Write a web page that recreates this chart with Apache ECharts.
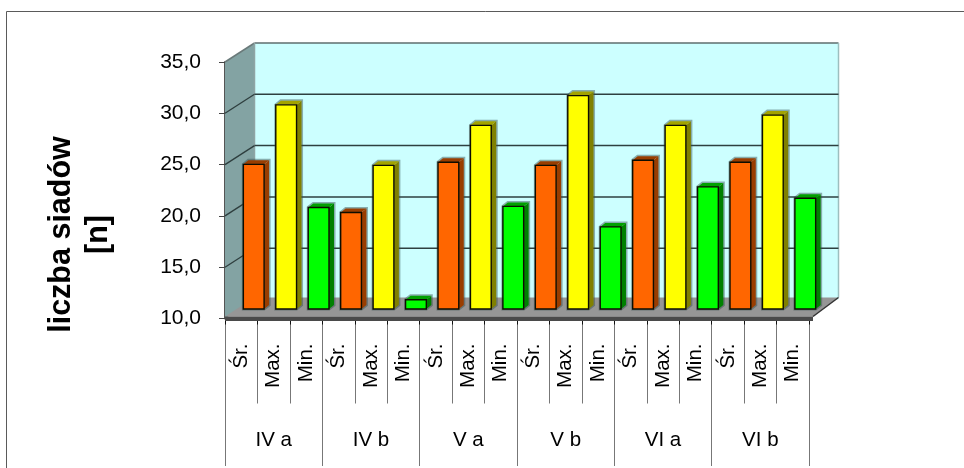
<!DOCTYPE html>
<html>
<head>
<meta charset="utf-8">
<style>html,body{margin:0;padding:0;background:#fff}#chart{width:964px;height:468px}</style>
<script src="https://cdn.jsdelivr.net/npm/echarts@6/dist/echarts.min.js"></script>
</head>
<body>
<div id="chart"></div>
<script>
// Footprint counts per group: mean, maximum, minimum
const groups = ['IV a', 'IV b', 'V a', 'V b', 'VI a', 'VI b'];
const stats = ['Śr.', 'Max.', 'Min.'];
const srValues = [24.1, 19.4, 24.3, 24.0, 24.5, 24.3];
const maxValues = [29.9, 24.0, 27.9, 30.8, 27.9, 28.9];
const minValues = [19.9, 10.9, 20.0, 18.0, 21.9, 20.8];
const yTicks = [15, 20, 25, 30];
const yMin = 10, yMax = 35, yStep = 5;
const yTitle = 'liczba siadów\n[n]';

// Pseudo-3D box depth, in pixels
const WALL_DX = 29.5, WALL_DY = 19;
const BAR_DX = 12.5, BAR_DY = 9.5;
const BAR_SIDE_DX = 5, BAR_SIDE_DY = 4;
const BAR_RATIO = 0.64;

const FONT = '"Liberation Sans", Arial, sans-serif';
const statLabels = [];
groups.forEach(() => stats.forEach(s => statLabels.push(s)));

function poly(points, fill, extra) {
  return Object.assign({
    type: 'polygon',
    shape: { points },
    style: { fill, stroke: null }
  }, extra || {});
}
function line(x1, y1, x2, y2, stroke, lineWidth) {
  return { type: 'line', shape: { x1, y1, x2, y2 }, style: { stroke, lineWidth } };
}

// Back wall, side wall and floor of the box
function renderBox(params, api) {
  const c = params.coordSys;
  const L = c.x, T = c.y, R = c.x + c.width, B = c.y + c.height;
  const bl = L + WALL_DX, bt = T - WALL_DY, bb = B - WALL_DY, br = R + WALL_DX;
  return {
    type: 'group',
    children: [
      poly([[bl, bt], [br, bt], [br, bb], [bl, bb]], '#CCFFFF'),
      poly([[L, T], [bl, bt], [bl, bb], [L, B]], '#83A3A3'),
      poly([[L, B - 2], [bl, bb - 2], [br, bb - 2], [R + 4, B - 2]], '#969696'),
      { type: 'rect', shape: { x: L, y: B - 2, width: R + 4 - L, height: 4.5 }, style: { fill: '#4A4A4A' } },
      line(bl, bt, br, bt, '#5E6E6E', 1.5),
      line(L, T, bl, bt, '#6A7A7A', 1.5),
      line(bl, bt, bl, bb, '#8FA5A5', 1.5),
      line(br, bt, br, bb - 2, '#9CBFBF', 1.5),
      line(R + 4, B - 2, br, bb - 2, '#333333', 1.5)
    ]
  };
}

// Gridline along the back wall with its diagonal on the side wall
function renderGrid(params, api) {
  const p = api.coord([0, api.value(0)]);
  const c = params.coordSys;
  const L = c.x, R = c.x + c.width;
  const y = p[1];
  return {
    type: 'group',
    children: [
      line(L, y, L + WALL_DX, y - WALL_DY, '#2E3E3E', 1.3),
      line(L + WALL_DX, y - WALL_DY, R + WALL_DX, y - WALL_DY, '#2E4040', 1.5)
    ]
  };
}

function barRenderer(face, side, cap) {
  return function (params, api) {
    const i = api.value(0);
    const top = api.coord([i, api.value(1)]);
    const base = api.coord([i, yMin]);
    const w = api.size([1, 0])[0] * BAR_RATIO;
    const x0 = top[0] + BAR_DX - w / 2, x1 = x0 + w;
    const y0 = top[1] - BAR_DY, y1 = base[1] - BAR_DY;
    const sx = BAR_SIDE_DX, sy = BAR_SIDE_DY;
    const outline = [[x0, y0], [x0 + sx, y0 - sy], [x1 + sx, y0 - sy], [x1 + sx, y1 - sy], [x1, y1], [x0, y1]];
    return {
      type: 'group',
      children: [
        poly(outline, 'none', { style: { fill: 'none', stroke: 'rgba(50,75,75,0.45)', lineWidth: 3 } }),
        poly([[x1, y0], [x1 + sx, y0 - sy], [x1 + sx, y1 - sy], [x1, y1]], side),
        poly([[x0, y0], [x0 + sx, y0 - sy], [x1 + sx, y0 - sy], [x1, y0]], cap),
        { type: 'rect', shape: { x: x0, y: y0, width: w, height: y1 - y0 },
          style: { fill: face, stroke: '#0D0D00', lineWidth: 1.4 } }
      ]
    };
  };
}

function barData(values, offset) {
  return values.map((v, g) => [g * stats.length + offset, v]);
}

const chart = echarts.init(document.getElementById('chart'), null, { renderer: 'canvas' });
chart.setOption({
  animation: false,
  backgroundColor: '#FFFFFF',
  grid: { left: 225, right: 155, top: 62, bottom: 149.5, containLabel: false },
  xAxis: [
    {
      type: 'category', data: statLabels, position: 'bottom',
      axisLine: { show: false },
      axisTick: { show: true, length: 85, interval: 0, lineStyle: { color: '#777777', width: 1 } },
      axisLabel: { interval: 0, rotate: 90, margin: 25, fontFamily: FONT, fontSize: 20.5, color: '#000' }
    },
    {
      type: 'category', data: groups, position: 'bottom',
      axisLine: { show: false },
      axisTick: { show: true, length: 147.5, interval: 0, lineStyle: { color: '#777777', width: 1 } },
      axisLabel: { interval: 0, margin: 111, fontFamily: FONT, fontSize: 20.5, color: '#000' }
    },
    {
      type: 'category', data: statLabels, position: 'bottom',
      axisLine: { show: false },
      axisTick: { show: true, length: 6, interval: 0, lineStyle: { color: '#111111', width: 1 } },
      axisLabel: { show: false }
    }
  ],
  yAxis: {
    type: 'value', min: yMin, max: yMax, interval: yStep,
    axisLine: { show: true, lineStyle: { color: '#555555', width: 2 } },
    axisTick: { show: true, length: 6, lineStyle: { color: '#444444', width: 1 } },
    splitLine: { show: false },
    axisLabel: {
      margin: 24, fontFamily: FONT, fontSize: 21, color: '#000',
      formatter: v => v.toFixed(1).replace('.', ',')
    }
  },
  graphic: [
    { type: 'line', shape: { x1: 6.5, y1: 11.5, x2: 964, y2: 11.5 }, style: { stroke: '#5A5A5A', lineWidth: 1 } },
    { type: 'line', shape: { x1: 6.5, y1: 11.5, x2: 6.5, y2: 468 }, style: { stroke: '#5A5A5A', lineWidth: 1 } },
    {
      type: 'text', x: 80, y: 234.5, rotation: Math.PI / 2,
      style: {
        text: yTitle, font: 'bold 30.5px ' + FONT, fill: '#000',
        align: 'center', verticalAlign: 'middle', lineHeight: 37
      }
    }
  ],
  series: [
    { type: 'custom', name: 'box', data: [[0, yMin]], renderItem: renderBox, z: 1, silent: true },
    { type: 'custom', name: 'siatka', data: yTicks.map(v => [v]), encode: { y: 0 }, renderItem: renderGrid, z: 2, silent: true },
    { type: 'custom', name: stats[0], data: barData(srValues, 0), encode: { x: 0, y: 1 }, renderItem: barRenderer('#FF6600', '#993D00', '#993D00'), z: 3 },
    { type: 'custom', name: stats[1], data: barData(maxValues, 1), encode: { x: 0, y: 1 }, renderItem: barRenderer('#FFFF00', '#808000', '#A3A300'), z: 3 },
    { type: 'custom', name: stats[2], data: barData(minValues, 2), encode: { x: 0, y: 1 }, renderItem: barRenderer('#00FF00', '#008000', '#00A000'), z: 3 }
  ]
});
</script>
</body>
</html>
